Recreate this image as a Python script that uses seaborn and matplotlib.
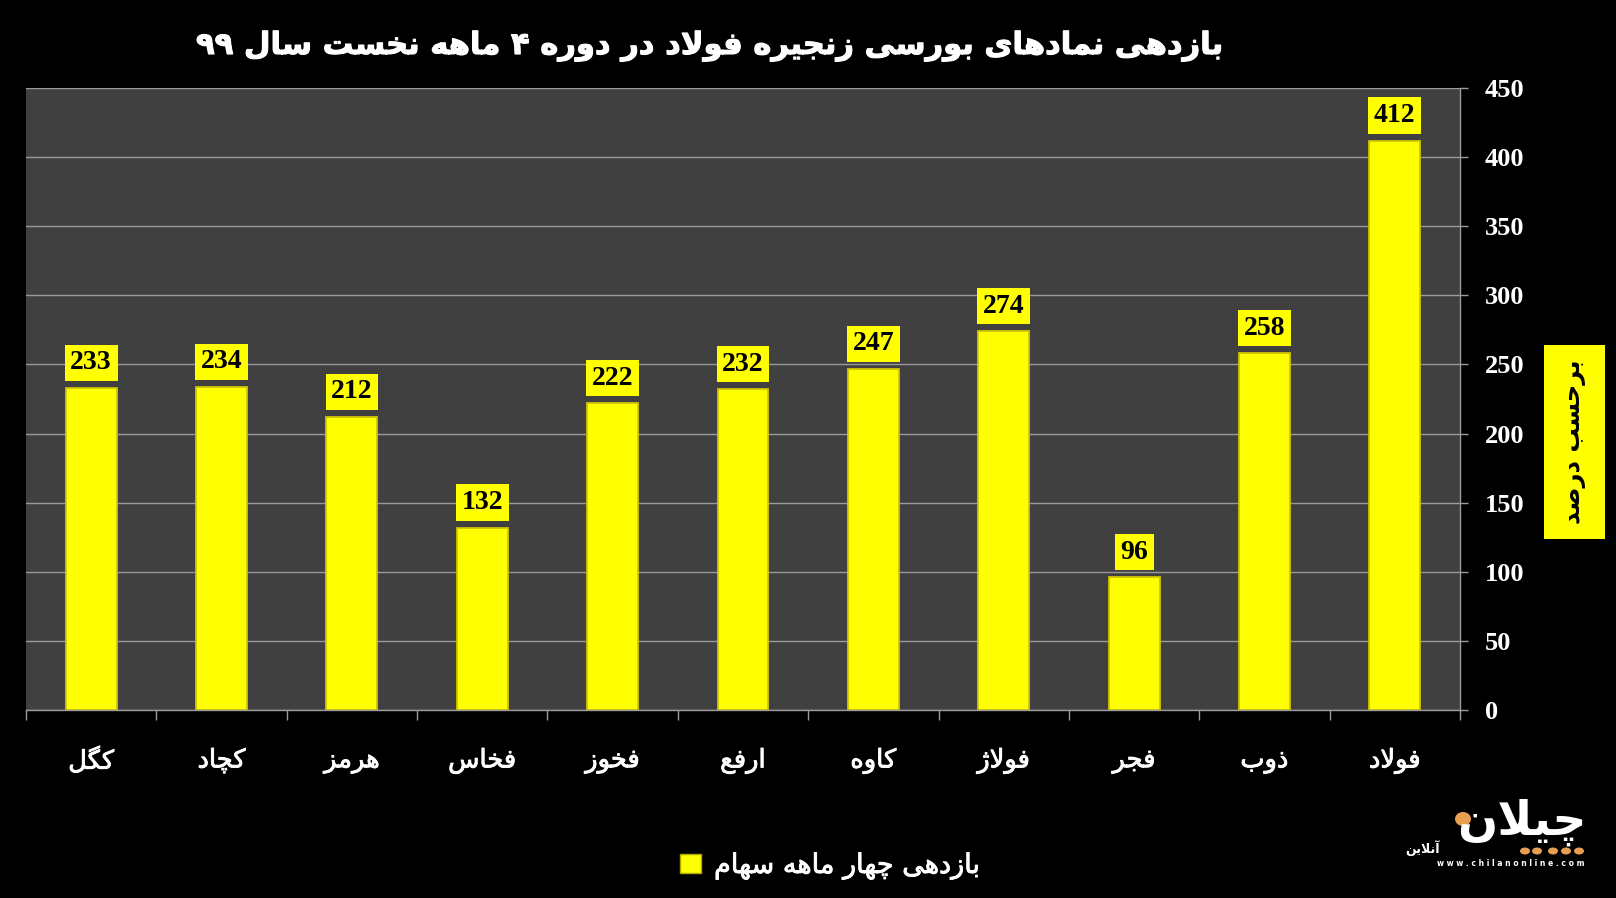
import matplotlib
matplotlib.use("Agg")
import matplotlib.pyplot as plt
import matplotlib.patheffects as pe
import seaborn as sns
import pandas as pd
from matplotlib.patches import Rectangle, Patch, Ellipse

# ---------------- data ----------------
categories = ["کگل", "کچاد", "هرمز", "فخاس", "فخوز", "ارفع", "کاوه", "فولاژ", "فجر", "ذوب", "فولاد"]
values = [233, 234, 212, 132, 222, 232, 247, 274, 96, 258, 412]
y_ticks = [0, 50, 100, 150, 200, 250, 300, 350, 400, 450]
title_text = "بازدهی نمادهای بورسی زنجیره فولاد در دوره ۴ ماهه نخست سال ۹۹"
ylabel_text = "برحسب درصد"
legend_text = "بازدهی چهار ماهه سهام"

# ---------------- minimal Persian shaping ----------------
FORMS = {
    'ا': (0xFE8D, 0xFE8E, None, None), 'آ': (0xFE81, 0xFE82, None, None),
    'ب': (0xFE8F, 0xFE90, 0xFE91, 0xFE92), 'پ': (0xFB56, 0xFB57, 0xFB58, 0xFB59),
    'ت': (0xFE95, 0xFE96, 0xFE97, 0xFE98), 'ث': (0xFE99, 0xFE9A, 0xFE9B, 0xFE9C),
    'ج': (0xFE9D, 0xFE9E, 0xFE9F, 0xFEA0), 'چ': (0xFB7A, 0xFB7B, 0xFB7C, 0xFB7D),
    'ح': (0xFEA1, 0xFEA2, 0xFEA3, 0xFEA4), 'خ': (0xFEA5, 0xFEA6, 0xFEA7, 0xFEA8),
    'د': (0xFEA9, 0xFEAA, None, None), 'ذ': (0xFEAB, 0xFEAC, None, None),
    'ر': (0xFEAD, 0xFEAE, None, None), 'ز': (0xFEAF, 0xFEB0, None, None),
    'ژ': (0xFB8A, 0xFB8B, None, None),
    'س': (0xFEB1, 0xFEB2, 0xFEB3, 0xFEB4), 'ش': (0xFEB5, 0xFEB6, 0xFEB7, 0xFEB8),
    'ص': (0xFEB9, 0xFEBA, 0xFEBB, 0xFEBC), 'ض': (0xFEBD, 0xFEBE, 0xFEBF, 0xFEC0),
    'ط': (0xFEC1, 0xFEC2, 0xFEC3, 0xFEC4), 'ظ': (0xFEC5, 0xFEC6, 0xFEC7, 0xFEC8),
    'ع': (0xFEC9, 0xFECA, 0xFECB, 0xFECC), 'غ': (0xFECD, 0xFECE, 0xFECF, 0xFED0),
    'ف': (0xFED1, 0xFED2, 0xFED3, 0xFED4), 'ق': (0xFED5, 0xFED6, 0xFED7, 0xFED8),
    'ک': (0xFB8E, 0xFB8F, 0xFB90, 0xFB91), 'گ': (0xFB92, 0xFB93, 0xFB94, 0xFB95),
    'ل': (0xFEDD, 0xFEDE, 0xFEDF, 0xFEE0), 'م': (0xFEE1, 0xFEE2, 0xFEE3, 0xFEE4),
    'ن': (0xFEE5, 0xFEE6, 0xFEE7, 0xFEE8), 'و': (0xFEED, 0xFEEE, None, None),
    'ه': (0xFEE9, 0xFEEA, 0xFEEB, 0xFEEC), 'ی': (0xFBFC, 0xFBFD, 0xFBFE, 0xFBFF),
}


def dual(c):
    return c in FORMS and FORMS[c][2] is not None


def shape(text):
    out = []
    chars = list(text)
    i = 0
    n = len(chars)
    while i < n:
        c = chars[i]
        if c not in FORMS:
            out.append(c)
            i += 1
            continue
        prev = chars[i - 1] if i > 0 else None
        jp = prev is not None and dual(prev)
        if c == 'ل' and i + 1 < n and chars[i + 1] in ('ا', 'آ'):
            if chars[i + 1] == 'ا':
                out.append(chr(0xFEFC if jp else 0xFEFB))
            else:
                out.append(chr(0xFEF6 if jp else 0xFEF5))
            i += 2
            continue
        nxt = chars[i + 1] if i + 1 < n else None
        jn = dual(c) and nxt is not None and nxt in FORMS
        iso, fin, ini, med = FORMS[c]
        if jp and jn:
            g = med
        elif jp:
            g = fin
        elif jn:
            g = ini
        else:
            g = iso
        out.append(chr(g))
        i += 1
    return "".join(out)[::-1]


# ---------------- figure ----------------
sns.set_theme(style="dark")
plt.rcParams['font.family'] = ['DejaVu Sans']

W, H = 1616, 898
GRID = "#9a9a9a"
YEL = "#ffff00"
fig = plt.figure(figsize=(W / 100, H / 100), dpi=100, facecolor="black")
ax = fig.add_axes([26 / W, 1 - 710 / H, (1460 - 26) / W, (710 - 88) / H])
ax.set_facecolor("#404040")

df = pd.DataFrame({"symbol": categories, "value": values})
sns.barplot(data=df, x="symbol", y="value", order=categories, color=YEL,
            saturation=1, width=0.39, edgecolor="#cfc600", linewidth=1.3, ax=ax)

ax.set_xlim(-0.5, len(categories) - 0.5)
ax.set_ylim(0, 450)
ax.set_yticks(y_ticks)
ax.yaxis.tick_right()
ax.yaxis.grid(True, color=GRID, linewidth=1)
ax.xaxis.grid(False)
ax.set_axisbelow(True)
ax.tick_params(axis="y", which="major", right=True, left=False, length=6,
               color=GRID, width=1, pad=12, labelcolor="white")
for lab in ax.get_yticklabels():
    lab.set_fontfamily("Liberation Serif")
    lab.set_fontweight("bold")
    lab.set_fontsize(19)

ax.set_xticks(range(len(categories)))
ax.set_xticklabels([shape(c) for c in categories], color="white", fontsize=18.5)
for lab in ax.get_xticklabels():
    lab.set_path_effects([pe.withStroke(linewidth=0.6, foreground="white")])
ax.set_xticks([i - 0.5 for i in range(len(categories) + 1)], minor=True)
ax.tick_params(axis="x", which="major", length=0, pad=27)
ax.tick_params(axis="x", which="minor", bottom=True, length=7.5, color=GRID, width=1)

for s in ["left", "top"]:
    ax.spines[s].set_visible(False)
for s in ["right", "bottom"]:
    ax.spines[s].set_visible(True)
    ax.spines[s].set_color(GRID)
    ax.spines[s].set_linewidth(1)

ax.set_xlabel("")
ax.set_ylabel("")

# value labels
for i, v in enumerate(values):
    ax.annotate(str(v), xy=(i, v), xytext=(0, 25), textcoords="offset pixels",
                ha="center", va="center", fontsize=20, fontweight="bold",
                fontfamily="Liberation Serif", color="black",
                bbox=dict(boxstyle="square,pad=0.2", facecolor=YEL, edgecolor="none"))

# title
fig.text(709 / W, 1 - 46 / H, shape(title_text), ha="center", va="center",
         color="white", fontsize=22, fontweight="bold",
         path_effects=[pe.withStroke(linewidth=0.8, foreground="white")])

# y label in yellow box
fig.patches.append(Rectangle((1544 / W, 1 - 539 / H), 61 / W, 194 / H,
                             transform=fig.transFigure, facecolor=YEL,
                             edgecolor="none", zorder=1))
fig.text(1574 / W, 1 - 442 / H, shape(ylabel_text), ha="center", va="center",
         rotation=90, color="black", fontsize=17.5, fontweight="bold", zorder=2)

# legend
handle = Patch(facecolor=YEL, edgecolor="#b0a800", linewidth=1)
leg = fig.legend([handle], [shape(legend_text)], loc="center",
                 bbox_to_anchor=(830 / W, 1 - 866 / H), frameon=False,
                 labelcolor="white", fontsize=19.5, handlelength=0.75, handleheight=0.75,
                 handletextpad=0.5)
for t in leg.get_texts():
    t.set_path_effects([pe.withStroke(linewidth=0.6, foreground="white")])

# logo (approximation)
ORANGE = "#e8a050"
fig.text(1522 / W, 1 - 822 / H, shape("چیلان"), ha="center", va="center",
         color="white", fontsize=34, fontweight="bold")
fig.patches.append(Ellipse((1463 / W, 1 - 819 / H), 16 / W, 14 / H,
                           transform=fig.transFigure, facecolor=ORANGE, edgecolor="none"))
for xd in [1525, 1537, 1553, 1566, 1579]:
    fig.patches.append(Ellipse((xd / W, 1 - 851 / H), 10 / W, 7 / H,
                               transform=fig.transFigure, facecolor=ORANGE, edgecolor="none"))
fig.text(1422 / W, 1 - 848 / H, shape("آنلاین"), ha="center", va="center",
         color="white", fontsize=9, fontweight="bold")
fig.text(1511 / W, 1 - 863 / H, "w w w . c h i l a n o n l i n e . c o m", ha="center",
         va="center", color="white", fontsize=5.5, fontweight="bold")

fig.savefig("out.png", dpi=100, facecolor="black")
